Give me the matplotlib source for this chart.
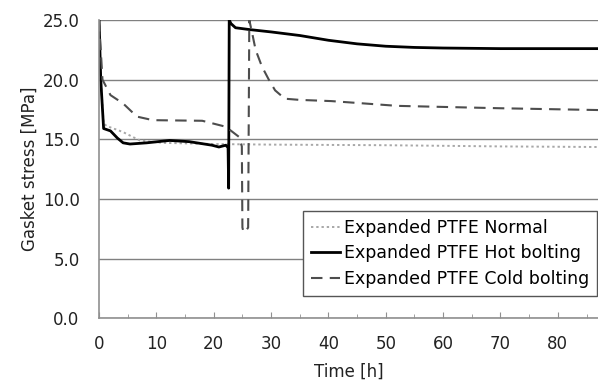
import matplotlib
matplotlib.use("Agg")
import matplotlib.pyplot as plt
from matplotlib.ticker import MultipleLocator

plt.rcParams['font.family'] = ['DejaVu Sans']

# Expanded PTFE Normal
t_normal = [0, 0.3, 0.8, 1.4, 4.2, 7.1, 11, 20, 30, 50, 70, 87]
v_normal = [25.0, 20.0, 16.3, 16.1, 15.6, 14.9, 14.7, 14.6, 14.55, 14.5, 14.4, 14.35]

# Expanded PTFE Hot bolting
t_hot = [0, 0.3, 0.8, 2.0, 3.2, 4.2, 5.4, 8.3, 12.3, 15.7, 19.7, 20.9, 22.1, 22.5, 22.6,
         22.7, 23.0, 23.8, 26.2, 30, 35, 40, 45, 50, 55, 60, 70, 80, 87]
v_hot = [25.0, 20.0, 15.9, 15.7, 15.1, 14.7, 14.6, 14.7, 14.9, 14.8, 14.5, 14.35, 14.5, 14.3, 10.9,
         25.0, 24.7, 24.35, 24.2, 24.0, 23.7, 23.3, 23.0, 22.8, 22.7, 22.65, 22.6, 22.6, 22.6]

# Expanded PTFE Cold bolting
t_cold = [0, 0.6, 2.0, 4.2, 6.6, 9.4, 18.0, 22.1, 24.4, 24.9, 25.0, 25.2, 25.6, 26.0, 26.2,
          26.7, 27.3, 28.4, 29.6, 30.7, 32.4, 35, 40.5, 46.3, 52, 70, 87]
v_cold = [25.0, 20.0, 18.7, 18.0, 16.9, 16.6, 16.55, 16.05, 15.2, 14.4, 7.6, 7.2, 7.3, 7.6, 25.0,
          23.9, 22.5, 21.1, 20.0, 19.1, 18.4, 18.3, 18.2, 18.0, 17.8, 17.6, 17.45]

fig = plt.figure(figsize=(5.98, 3.81), dpi=100)
ax = fig.add_axes([0.1656, 0.165, 0.8344, 0.7825])

ax.plot(t_normal, v_normal, color='#a8a8a8', linewidth=1.4, linestyle=(0, (1.2, 1.5)),
        label='Expanded PTFE Normal')
ax.plot(t_hot, v_hot, color='black', linewidth=2.0, label='Expanded PTFE Hot bolting')
ax.plot(t_cold, v_cold, color='#4d4d4d', linewidth=1.5, linestyle=(0, (5.5, 3.5)),
        label='Expanded PTFE Cold bolting')

ax.set_xlim(0, 87)
ax.set_ylim(0, 25)
ax.xaxis.set_major_locator(MultipleLocator(10))
ax.xaxis.set_minor_locator(MultipleLocator(5))
ax.set_yticks([0, 5, 10, 15, 20, 25])
ax.set_yticklabels([f'{v:.1f}' for v in [0, 5, 10, 15, 20, 25]])
ax.set_xticks(range(0, 81, 10))

ax.grid(axis='y', color='#808080', linewidth=1.0)
ax.set_axisbelow(True)
for s in ['top', 'right']:
    ax.spines[s].set_visible(False)
ax.spines['left'].set_color('#909090')
ax.spines['bottom'].set_color('#909090')
ax.spines['left'].set_linewidth(1.2)
ax.spines['bottom'].set_linewidth(1.2)

ax.tick_params(axis='x', which='major', direction='in', length=4, color='#909090',
               pad=12, labelsize=12, labelcolor='#222222')
ax.tick_params(axis='x', which='minor', direction='in', length=3, color='#909090')
ax.tick_params(axis='y', length=0, pad=14, labelsize=12, labelcolor='#222222')

ax.set_xlabel('Time [h]', fontsize=12, color='#222222', labelpad=7)
ax.set_ylabel('Gasket stress [MPa]', fontsize=12, color='#222222', labelpad=3)

leg = ax.legend(loc='lower right', bbox_to_anchor=(0.998, 0.074), fontsize=12.5,
                fancybox=False, framealpha=1, edgecolor='#555555',
                handlelength=1.7, handletextpad=0.2, borderaxespad=0,
                labelspacing=0.45, borderpad=0.45)
leg.get_frame().set_linewidth(1.0)

fig.savefig('out.png', dpi=100)
